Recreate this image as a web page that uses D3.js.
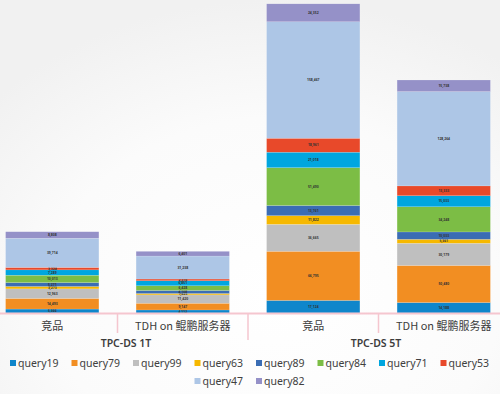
<!DOCTYPE html>
<html lang="en">
<head>
<meta charset="UTF-8">
<title>TPC-DS stacked bars</title>
<script src="https://d3js.org/d3.v7.min.js"></script>
<style>
    body { margin: 0; background: #f4f4f4; }
    svg { display: block; font-family: "Noto Sans", "Noto Sans CJK SC", sans-serif; }
    .seg-label { font-size: 3.4px; font-weight: bold; fill: #333; }
    .cat-label { font-size: 11px; fill: #3c3c3c; font-family: "Noto Sans CJK SC", "Noto Sans", sans-serif; }
    .grp-label { font-size: 10.5px; fill: #3c3c3c; font-weight: 600; }
    .legend text { font-size: 10.5px; fill: #404040; }
</style>
</head>
<body>
<svg width="500" height="394"></svg>
<script>
const queries = ["query19", "query79", "query99", "query63", "query89", "query84", "query71", "query53", "query47", "query82"];
const colors = ["#0f86cb", "#f28e22", "#bfbfbf", "#f6b800", "#3b6db4", "#7cbd45", "#00a6df", "#e8492a", "#adc6e6", "#9591c8"];
const categories = ["竞品", "TDH on 鲲鹏服务器", "竞品 ", "TDH on 鲲鹏服务器 "];
const groups = ["TPC-DS 1T", "TPC-DS 5T"];

// values per category, in the order of `queries`
const jingpin1T = [5366, 14493, 12963, 3273, 5271, 10013, 7289, 3324, 39714, 8808];
const tdh1T     = [4112, 9147, 11420, 1823, 4108, 6428, 6851, 2316, 31238, 6401];
const jingpin5T = [17124, 66795, 36665, 11822, 13761, 51490, 21018, 18961, 158467, 24352];
const tdh5T     = [14188, 50480, 30179, 5361, 10033, 34248, 15033, 13333, 128264, 15738];
const series = [jingpin1T, tdh1T, jingpin5T, tdh5T];

const W = 500, H = 394, baseY = 313;
const svg = d3.select("svg");

// background
const grad = svg.append("defs").append("radialGradient")
    .attr("id", "bg").attr("cx", "55%").attr("cy", "75%").attr("r", "75%");
grad.append("stop").attr("offset", "0%").attr("stop-color", "#ffffff");
grad.append("stop").attr("offset", "60%").attr("stop-color", "#fbfbfb");
grad.append("stop").attr("offset", "100%").attr("stop-color", "#f1f1f1");
svg.append("rect").attr("width", W).attr("height", H).attr("fill", "url(#bg)");

const x = d3.scaleBand().domain(categories).range([-13, 509]).padding(0);
const barW = x.step() * 0.715;
const y = d3.scaleLinear().domain([0, 313 * 1360]).range([baseY, 0]);

const rows = categories.map((c, i) => {
    const r = { cat: c };
    queries.forEach((q, j) => r[q] = series[i][j]);
    return r;
});
const stacked = d3.stack().keys(queries)(rows);

const layer = svg.selectAll(".layer")
    .data(stacked)
    .enter().append("g")
    .attr("fill", (d, i) => colors[i]);

layer.selectAll("rect")
    .data(d => d)
    .enter().append("rect")
    .attr("x", d => x(d.data.cat) + (x.step() - barW) / 2)
    .attr("width", barW)
    .attr("y", d => y(d[1]))
    .attr("height", d => y(d[0]) - y(d[1]))
    .attr("stroke", "#ffffff")
    .attr("stroke-opacity", 0.35)
    .attr("stroke-width", 0.4);

layer.selectAll("text")
    .data(d => d)
    .enter().append("text")
    .attr("class", "seg-label")
    .attr("x", d => x(d.data.cat) + x.step() / 2)
    .attr("y", d => (y(d[0]) + y(d[1])) / 2 + 1.2)
    .attr("text-anchor", "middle")
    .text(d => d3.format(",")(d[1] - d[0]));

// axis line and separators
const axisColor = "#f5c6cf";
svg.append("line")
    .attr("x1", 0).attr("x2", W).attr("y1", baseY + 0.5).attr("y2", baseY + 0.5)
    .attr("stroke", axisColor).attr("stroke-width", 2);
[1, 2, 3].forEach(k => {
    const xs = x.range()[0] + x.step() * k;
    svg.append("line")
        .attr("x1", xs).attr("x2", xs)
        .attr("y1", baseY).attr("y2", k === 2 ? 340 : 333)
        .attr("stroke", axisColor).attr("stroke-width", 1.5);
});

svg.selectAll(".cat-label")
    .data(categories)
    .enter().append("text")
    .attr("class", "cat-label")
    .attr("x", d => x(d) + x.step() / 2)
    .attr("y", 330)
    .attr("text-anchor", "middle")
    .text(d => d.trim());

svg.selectAll(".grp-label")
    .data(groups)
    .enter().append("text")
    .attr("class", "grp-label")
    .attr("x", (d, i) => {
        const a = Math.max(0, x(categories[i * 2])), b = Math.min(W, x(categories[i * 2 + 1]) + x.step());
        return (a + b) / 2 + 2;
    })
    .attr("y", 347)
    .attr("text-anchor", "middle")
    .text(d => d);

// legend
const legend = svg.append("g").attr("class", "legend");
const legendPos = queries.map((q, i) => i < 8
    ? { x: 10 + 61.5 * i, y: 363 }
    : { x: 10 + 61.5 * (i - 5), y: 381 });
const item = legend.selectAll("g")
    .data(queries)
    .enter().append("g")
    .attr("transform", (d, i) => `translate(${legendPos[i].x},${legendPos[i].y})`);
item.append("rect")
    .attr("x", 0).attr("y", -3).attr("width", 6).attr("height", 6)
    .attr("fill", (d, i) => colors[i]);
item.append("text")
    .attr("x", 8).attr("y", 3.7)
    .text(d => d);
</script>
</body>
</html>
